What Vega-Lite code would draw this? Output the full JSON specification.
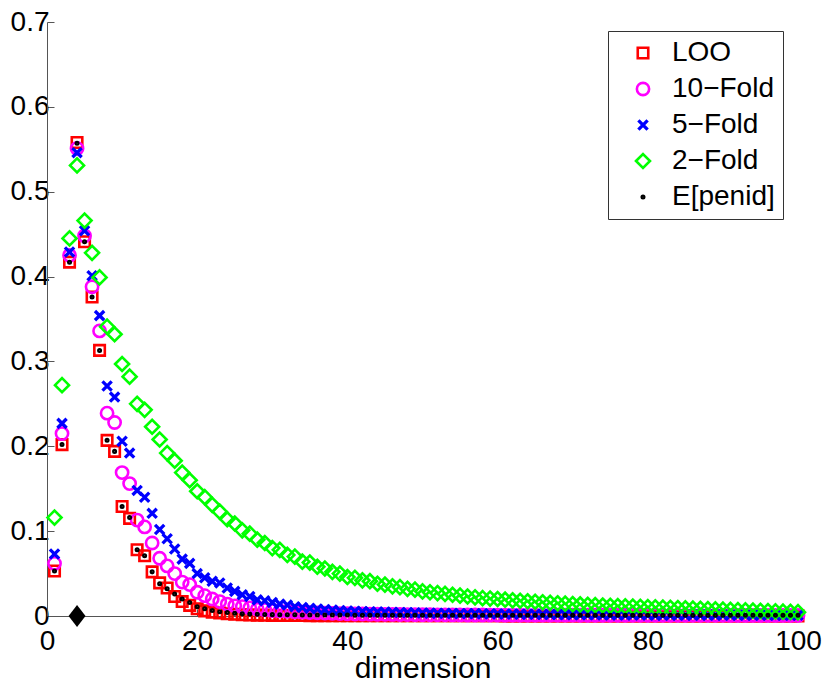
{
  "$schema": "https://vega.github.io/schema/vega-lite/v6.json",
  "width": 751,
  "height": 594,
  "autosize": "none",
  "padding": {"left": 47, "top": 22, "right": 32, "bottom": 75},
  "background": "white",
  "config": {
    "view": {"stroke": null},
    "font": "Liberation Sans",
    "axis": {
      "grid": false,
      "domainColor": "#555555",
      "tickColor": "#555555",
      "tickSize": -7,
      "labelFontSize": 28,
      "labelColor": "black",
      "labelFlush": false,
      "titleFontSize": 30,
      "titleFontWeight": "normal",
      "titleColor": "black"
    },
    "legend": {
      "orient": "none",
      "legendX": 561,
      "legendY": 9,
      "strokeColor": "#333333",
      "fillColor": "white",
      "padding": 8,
      "labelFontSize": 28,
      "labelColor": "black",
      "rowPadding": 8,
      "symbolOffset": 13,
      "labelOffset": 15
    }
  },
  "datasets": {
    "pts": [
      {"s":"LOO","d":1,"v":0.053},{"s":"LOO","d":2,"v":0.202},{"s":"LOO","d":3,"v":0.417},{"s":"LOO","d":4,"v":0.558},{"s":"LOO","d":5,"v":0.441},
      {"s":"LOO","d":6,"v":0.376},{"s":"LOO","d":7,"v":0.313},{"s":"LOO","d":8,"v":0.207},{"s":"LOO","d":9,"v":0.194},{"s":"LOO","d":10,"v":0.129},
      {"s":"LOO","d":11,"v":0.115},{"s":"LOO","d":12,"v":0.078},{"s":"LOO","d":13,"v":0.071},{"s":"LOO","d":14,"v":0.052},{"s":"LOO","d":15,"v":0.039},
      {"s":"LOO","d":16,"v":0.033},{"s":"LOO","d":17,"v":0.023},{"s":"LOO","d":18,"v":0.017},{"s":"LOO","d":19,"v":0.0125},{"s":"LOO","d":20,"v":0.0085},
      {"s":"LOO","d":21,"v":0.006},{"s":"LOO","d":22,"v":0.0045},{"s":"LOO","d":23,"v":0.0035},{"s":"LOO","d":24,"v":0.0026},{"s":"LOO","d":25,"v":0.002},
      {"s":"LOO","d":26,"v":0.0015},{"s":"LOO","d":27,"v":0.0012},{"s":"LOO","d":28,"v":0.001},{"s":"LOO","d":29,"v":0.0008},{"s":"LOO","d":30,"v":0.0007},
      {"s":"LOO","d":31,"v":0.0006},{"s":"LOO","d":32,"v":0.0006},{"s":"LOO","d":33,"v":0.0005},{"s":"LOO","d":34,"v":0.0005},{"s":"LOO","d":35,"v":0.0004},
      {"s":"LOO","d":36,"v":0.0004},{"s":"LOO","d":37,"v":0.0004},{"s":"LOO","d":38,"v":0.0003},{"s":"LOO","d":39,"v":0.0003},{"s":"LOO","d":40,"v":0.0003},
      {"s":"LOO","d":41,"v":0.0002},{"s":"LOO","d":42,"v":0.0002},{"s":"LOO","d":43,"v":0.0002},{"s":"LOO","d":44,"v":0.0002},{"s":"LOO","d":45,"v":0.0002},
      {"s":"LOO","d":46,"v":0.0002},{"s":"LOO","d":47,"v":0.0002},{"s":"LOO","d":48,"v":0.0002},{"s":"LOO","d":49,"v":0.0002},{"s":"LOO","d":50,"v":0.0002},
      {"s":"LOO","d":51,"v":0.0002},{"s":"LOO","d":52,"v":0.0002},{"s":"LOO","d":53,"v":0.0002},{"s":"LOO","d":54,"v":0.0002},{"s":"LOO","d":55,"v":0.0002},
      {"s":"LOO","d":56,"v":0.0002},{"s":"LOO","d":57,"v":0.0002},{"s":"LOO","d":58,"v":0.0002},{"s":"LOO","d":59,"v":0.0002},{"s":"LOO","d":60,"v":0.0002},
      {"s":"LOO","d":61,"v":0.0001},{"s":"LOO","d":62,"v":0.0001},{"s":"LOO","d":63,"v":0.0001},{"s":"LOO","d":64,"v":0.0001},{"s":"LOO","d":65,"v":0.0001},
      {"s":"LOO","d":66,"v":0.0001},{"s":"LOO","d":67,"v":0.0001},{"s":"LOO","d":68,"v":0.0001},{"s":"LOO","d":69,"v":0.0001},{"s":"LOO","d":70,"v":0.0001},
      {"s":"LOO","d":71,"v":0.0001},{"s":"LOO","d":72,"v":0.0001},{"s":"LOO","d":73,"v":0.0001},{"s":"LOO","d":74,"v":0.0001},{"s":"LOO","d":75,"v":0.0001},
      {"s":"LOO","d":76,"v":0.0001},{"s":"LOO","d":77,"v":0.0001},{"s":"LOO","d":78,"v":0.0001},{"s":"LOO","d":79,"v":0.0001},{"s":"LOO","d":80,"v":0.0001},
      {"s":"LOO","d":81,"v":0.0001},{"s":"LOO","d":82,"v":0.0001},{"s":"LOO","d":83,"v":0.0001},{"s":"LOO","d":84,"v":0.0001},{"s":"LOO","d":85,"v":0.0001},
      {"s":"LOO","d":86,"v":0.0001},{"s":"LOO","d":87,"v":0.0001},{"s":"LOO","d":88,"v":0.0001},{"s":"LOO","d":89,"v":0.0001},{"s":"LOO","d":90,"v":0.0001},
      {"s":"LOO","d":91,"v":0.0001},{"s":"LOO","d":92,"v":0.0001},{"s":"LOO","d":93,"v":0.0001},{"s":"LOO","d":94,"v":0.0001},{"s":"LOO","d":95,"v":0.0001},
      {"s":"LOO","d":96,"v":0.0001},{"s":"LOO","d":97,"v":0.0001},{"s":"LOO","d":98,"v":0.0001},{"s":"LOO","d":99,"v":0.0001},{"s":"LOO","d":100,"v":0.0001},

      {"s":"10−Fold","d":1,"v":0.062},{"s":"10−Fold","d":2,"v":0.215},{"s":"10−Fold","d":3,"v":0.425},{"s":"10−Fold","d":4,"v":0.551},{"s":"10−Fold","d":5,"v":0.448},
      {"s":"10−Fold","d":6,"v":0.388},{"s":"10−Fold","d":7,"v":0.336},{"s":"10−Fold","d":8,"v":0.239},{"s":"10−Fold","d":9,"v":0.228},{"s":"10−Fold","d":10,"v":0.169},
      {"s":"10−Fold","d":11,"v":0.156},{"s":"10−Fold","d":12,"v":0.113},{"s":"10−Fold","d":13,"v":0.105},{"s":"10−Fold","d":14,"v":0.086},{"s":"10−Fold","d":15,"v":0.068},
      {"s":"10−Fold","d":16,"v":0.059},{"s":"10−Fold","d":17,"v":0.05},{"s":"10−Fold","d":18,"v":0.04},{"s":"10−Fold","d":19,"v":0.037},{"s":"10−Fold","d":20,"v":0.028},
      {"s":"10−Fold","d":21,"v":0.024},{"s":"10−Fold","d":22,"v":0.02},{"s":"10−Fold","d":23,"v":0.017},{"s":"10−Fold","d":24,"v":0.014},{"s":"10−Fold","d":25,"v":0.012},
      {"s":"10−Fold","d":26,"v":0.011},{"s":"10−Fold","d":27,"v":0.0095},{"s":"10−Fold","d":28,"v":0.008},{"s":"10−Fold","d":29,"v":0.0075},{"s":"10−Fold","d":30,"v":0.0065},
      {"s":"10−Fold","d":31,"v":0.006},{"s":"10−Fold","d":32,"v":0.0055},{"s":"10−Fold","d":33,"v":0.005},{"s":"10−Fold","d":34,"v":0.0045},{"s":"10−Fold","d":35,"v":0.004},
      {"s":"10−Fold","d":36,"v":0.0037},{"s":"10−Fold","d":37,"v":0.0034},{"s":"10−Fold","d":38,"v":0.0031},{"s":"10−Fold","d":39,"v":0.0028},{"s":"10−Fold","d":40,"v":0.0026},
      {"s":"10−Fold","d":41,"v":0.0024},{"s":"10−Fold","d":42,"v":0.0023},{"s":"10−Fold","d":43,"v":0.0022},{"s":"10−Fold","d":44,"v":0.0021},{"s":"10−Fold","d":45,"v":0.002},
      {"s":"10−Fold","d":46,"v":0.0019},{"s":"10−Fold","d":47,"v":0.0018},{"s":"10−Fold","d":48,"v":0.0017},{"s":"10−Fold","d":49,"v":0.0016},{"s":"10−Fold","d":50,"v":0.0015},
      {"s":"10−Fold","d":51,"v":0.0015},{"s":"10−Fold","d":52,"v":0.0014},{"s":"10−Fold","d":53,"v":0.0014},{"s":"10−Fold","d":54,"v":0.0013},{"s":"10−Fold","d":55,"v":0.0013},
      {"s":"10−Fold","d":56,"v":0.0012},{"s":"10−Fold","d":57,"v":0.0012},{"s":"10−Fold","d":58,"v":0.0012},{"s":"10−Fold","d":59,"v":0.0011},{"s":"10−Fold","d":60,"v":0.0011},
      {"s":"10−Fold","d":61,"v":0.001},{"s":"10−Fold","d":62,"v":0.001},{"s":"10−Fold","d":63,"v":0.001},{"s":"10−Fold","d":64,"v":0.001},{"s":"10−Fold","d":65,"v":0.001},
      {"s":"10−Fold","d":66,"v":0.001},{"s":"10−Fold","d":67,"v":0.001},{"s":"10−Fold","d":68,"v":0.001},{"s":"10−Fold","d":69,"v":0.001},{"s":"10−Fold","d":70,"v":0.001},
      {"s":"10−Fold","d":71,"v":0.0009},{"s":"10−Fold","d":72,"v":0.0009},{"s":"10−Fold","d":73,"v":0.0009},{"s":"10−Fold","d":74,"v":0.0009},{"s":"10−Fold","d":75,"v":0.0009},
      {"s":"10−Fold","d":76,"v":0.0009},{"s":"10−Fold","d":77,"v":0.0009},{"s":"10−Fold","d":78,"v":0.0009},{"s":"10−Fold","d":79,"v":0.0009},{"s":"10−Fold","d":80,"v":0.0009},
      {"s":"10−Fold","d":81,"v":0.0008},{"s":"10−Fold","d":82,"v":0.0008},{"s":"10−Fold","d":83,"v":0.0008},{"s":"10−Fold","d":84,"v":0.0008},{"s":"10−Fold","d":85,"v":0.0008},
      {"s":"10−Fold","d":86,"v":0.0008},{"s":"10−Fold","d":87,"v":0.0008},{"s":"10−Fold","d":88,"v":0.0008},{"s":"10−Fold","d":89,"v":0.0008},{"s":"10−Fold","d":90,"v":0.0008},
      {"s":"10−Fold","d":91,"v":0.0007},{"s":"10−Fold","d":92,"v":0.0007},{"s":"10−Fold","d":93,"v":0.0007},{"s":"10−Fold","d":94,"v":0.0007},{"s":"10−Fold","d":95,"v":0.0007},
      {"s":"10−Fold","d":96,"v":0.0007},{"s":"10−Fold","d":97,"v":0.0007},{"s":"10−Fold","d":98,"v":0.0007},{"s":"10−Fold","d":99,"v":0.0007},{"s":"10−Fold","d":100,"v":0.0007},

      {"s":"5−Fold","d":1,"v":0.073},{"s":"5−Fold","d":2,"v":0.227},{"s":"5−Fold","d":3,"v":0.429},{"s":"5−Fold","d":4,"v":0.546},{"s":"5−Fold","d":5,"v":0.454},
      {"s":"5−Fold","d":6,"v":0.401},{"s":"5−Fold","d":7,"v":0.354},{"s":"5−Fold","d":8,"v":0.271},{"s":"5−Fold","d":9,"v":0.258},{"s":"5−Fold","d":10,"v":0.206},
      {"s":"5−Fold","d":11,"v":0.192},{"s":"5−Fold","d":12,"v":0.148},{"s":"5−Fold","d":13,"v":0.14},{"s":"5−Fold","d":14,"v":0.121},{"s":"5−Fold","d":15,"v":0.102},
      {"s":"5−Fold","d":16,"v":0.091},{"s":"5−Fold","d":17,"v":0.079},{"s":"5−Fold","d":18,"v":0.067},{"s":"5−Fold","d":19,"v":0.062},{"s":"5−Fold","d":20,"v":0.05},
      {"s":"5−Fold","d":21,"v":0.045},{"s":"5−Fold","d":22,"v":0.041},{"s":"5−Fold","d":23,"v":0.039},{"s":"5−Fold","d":24,"v":0.033},{"s":"5−Fold","d":25,"v":0.029},
      {"s":"5−Fold","d":26,"v":0.025},{"s":"5−Fold","d":27,"v":0.023},{"s":"5−Fold","d":28,"v":0.019},{"s":"5−Fold","d":29,"v":0.018},{"s":"5−Fold","d":30,"v":0.016},
      {"s":"5−Fold","d":31,"v":0.014},{"s":"5−Fold","d":32,"v":0.013},{"s":"5−Fold","d":33,"v":0.011},{"s":"5−Fold","d":34,"v":0.01},{"s":"5−Fold","d":35,"v":0.009},
      {"s":"5−Fold","d":36,"v":0.0082},{"s":"5−Fold","d":37,"v":0.0075},{"s":"5−Fold","d":38,"v":0.007},{"s":"5−Fold","d":39,"v":0.0064},{"s":"5−Fold","d":40,"v":0.006},
      {"s":"5−Fold","d":41,"v":0.0057},{"s":"5−Fold","d":42,"v":0.0054},{"s":"5−Fold","d":43,"v":0.0051},{"s":"5−Fold","d":44,"v":0.0048},{"s":"5−Fold","d":45,"v":0.0046},
      {"s":"5−Fold","d":46,"v":0.0044},{"s":"5−Fold","d":47,"v":0.0042},{"s":"5−Fold","d":48,"v":0.004},{"s":"5−Fold","d":49,"v":0.0038},{"s":"5−Fold","d":50,"v":0.0036},
      {"s":"5−Fold","d":51,"v":0.0034},{"s":"5−Fold","d":52,"v":0.0033},{"s":"5−Fold","d":53,"v":0.0032},{"s":"5−Fold","d":54,"v":0.0031},{"s":"5−Fold","d":55,"v":0.003},
      {"s":"5−Fold","d":56,"v":0.0029},{"s":"5−Fold","d":57,"v":0.0028},{"s":"5−Fold","d":58,"v":0.0027},{"s":"5−Fold","d":59,"v":0.0026},{"s":"5−Fold","d":60,"v":0.0025},
      {"s":"5−Fold","d":61,"v":0.0024},{"s":"5−Fold","d":62,"v":0.0023},{"s":"5−Fold","d":63,"v":0.0022},{"s":"5−Fold","d":64,"v":0.0021},{"s":"5−Fold","d":65,"v":0.002},
      {"s":"5−Fold","d":66,"v":0.0019},{"s":"5−Fold","d":67,"v":0.0018},{"s":"5−Fold","d":68,"v":0.0017},{"s":"5−Fold","d":69,"v":0.0016},{"s":"5−Fold","d":70,"v":0.0015},
      {"s":"5−Fold","d":71,"v":0.0015},{"s":"5−Fold","d":72,"v":0.0014},{"s":"5−Fold","d":73,"v":0.0014},{"s":"5−Fold","d":74,"v":0.0013},{"s":"5−Fold","d":75,"v":0.0013},
      {"s":"5−Fold","d":76,"v":0.0012},{"s":"5−Fold","d":77,"v":0.0012},{"s":"5−Fold","d":78,"v":0.0012},{"s":"5−Fold","d":79,"v":0.0011},{"s":"5−Fold","d":80,"v":0.0011},
      {"s":"5−Fold","d":81,"v":0.001},{"s":"5−Fold","d":82,"v":0.001},{"s":"5−Fold","d":83,"v":0.001},{"s":"5−Fold","d":84,"v":0.001},{"s":"5−Fold","d":85,"v":0.001},
      {"s":"5−Fold","d":86,"v":0.001},{"s":"5−Fold","d":87,"v":0.001},{"s":"5−Fold","d":88,"v":0.001},{"s":"5−Fold","d":89,"v":0.001},{"s":"5−Fold","d":90,"v":0.001},
      {"s":"5−Fold","d":91,"v":0.0009},{"s":"5−Fold","d":92,"v":0.0009},{"s":"5−Fold","d":93,"v":0.0009},{"s":"5−Fold","d":94,"v":0.0009},{"s":"5−Fold","d":95,"v":0.0009},
      {"s":"5−Fold","d":96,"v":0.0009},{"s":"5−Fold","d":97,"v":0.0009},{"s":"5−Fold","d":98,"v":0.0009},{"s":"5−Fold","d":99,"v":0.0009},{"s":"5−Fold","d":100,"v":0.0009},

      {"s":"2−Fold","d":1,"v":0.116},{"s":"2−Fold","d":2,"v":0.272},{"s":"2−Fold","d":3,"v":0.445},{"s":"2−Fold","d":4,"v":0.531},{"s":"2−Fold","d":5,"v":0.466},
      {"s":"2−Fold","d":6,"v":0.428},{"s":"2−Fold","d":7,"v":0.399},{"s":"2−Fold","d":8,"v":0.341},{"s":"2−Fold","d":9,"v":0.332},{"s":"2−Fold","d":10,"v":0.297},
      {"s":"2−Fold","d":11,"v":0.282},{"s":"2−Fold","d":12,"v":0.25},{"s":"2−Fold","d":13,"v":0.243},{"s":"2−Fold","d":14,"v":0.223},{"s":"2−Fold","d":15,"v":0.208},
      {"s":"2−Fold","d":16,"v":0.192},{"s":"2−Fold","d":17,"v":0.183},{"s":"2−Fold","d":18,"v":0.169},{"s":"2−Fold","d":19,"v":0.16},{"s":"2−Fold","d":20,"v":0.147},
      {"s":"2−Fold","d":21,"v":0.14},{"s":"2−Fold","d":22,"v":0.131},{"s":"2−Fold","d":23,"v":0.123},{"s":"2−Fold","d":24,"v":0.114},{"s":"2−Fold","d":25,"v":0.109},
      {"s":"2−Fold","d":26,"v":0.101},{"s":"2−Fold","d":27,"v":0.097},{"s":"2−Fold","d":28,"v":0.09},{"s":"2−Fold","d":29,"v":0.086},{"s":"2−Fold","d":30,"v":0.08},
      {"s":"2−Fold","d":31,"v":0.078},{"s":"2−Fold","d":32,"v":0.072},{"s":"2−Fold","d":33,"v":0.07},{"s":"2−Fold","d":34,"v":0.064},{"s":"2−Fold","d":35,"v":0.063},
      {"s":"2−Fold","d":36,"v":0.058},{"s":"2−Fold","d":37,"v":0.056},{"s":"2−Fold","d":38,"v":0.052},{"s":"2−Fold","d":39,"v":0.05},{"s":"2−Fold","d":40,"v":0.046},
      {"s":"2−Fold","d":41,"v":0.045},{"s":"2−Fold","d":42,"v":0.042},{"s":"2−Fold","d":43,"v":0.041},{"s":"2−Fold","d":44,"v":0.038},{"s":"2−Fold","d":45,"v":0.037},
      {"s":"2−Fold","d":46,"v":0.035},{"s":"2−Fold","d":47,"v":0.034},{"s":"2−Fold","d":48,"v":0.032},{"s":"2−Fold","d":49,"v":0.031},{"s":"2−Fold","d":50,"v":0.029},
      {"s":"2−Fold","d":51,"v":0.028},{"s":"2−Fold","d":52,"v":0.027},{"s":"2−Fold","d":53,"v":0.026},{"s":"2−Fold","d":54,"v":0.025},{"s":"2−Fold","d":55,"v":0.024},
      {"s":"2−Fold","d":56,"v":0.023},{"s":"2−Fold","d":57,"v":0.022},{"s":"2−Fold","d":58,"v":0.021},{"s":"2−Fold","d":59,"v":0.0205},{"s":"2−Fold","d":60,"v":0.02},
      {"s":"2−Fold","d":61,"v":0.0192},{"s":"2−Fold","d":62,"v":0.0185},{"s":"2−Fold","d":63,"v":0.018},{"s":"2−Fold","d":64,"v":0.0174},{"s":"2−Fold","d":65,"v":0.0168},
      {"s":"2−Fold","d":66,"v":0.0162},{"s":"2−Fold","d":67,"v":0.0156},{"s":"2−Fold","d":68,"v":0.015},{"s":"2−Fold","d":69,"v":0.0145},{"s":"2−Fold","d":70,"v":0.014},
      {"s":"2−Fold","d":71,"v":0.0136},{"s":"2−Fold","d":72,"v":0.0132},{"s":"2−Fold","d":73,"v":0.0128},{"s":"2−Fold","d":74,"v":0.0124},{"s":"2−Fold","d":75,"v":0.012},
      {"s":"2−Fold","d":76,"v":0.0117},{"s":"2−Fold","d":77,"v":0.0114},{"s":"2−Fold","d":78,"v":0.0111},{"s":"2−Fold","d":79,"v":0.0108},{"s":"2−Fold","d":80,"v":0.0105},
      {"s":"2−Fold","d":81,"v":0.0102},{"s":"2−Fold","d":82,"v":0.0099},{"s":"2−Fold","d":83,"v":0.0096},{"s":"2−Fold","d":84,"v":0.0093},{"s":"2−Fold","d":85,"v":0.009},
      {"s":"2−Fold","d":86,"v":0.0087},{"s":"2−Fold","d":87,"v":0.0084},{"s":"2−Fold","d":88,"v":0.0081},{"s":"2−Fold","d":89,"v":0.0078},{"s":"2−Fold","d":90,"v":0.0075},
      {"s":"2−Fold","d":91,"v":0.0072},{"s":"2−Fold","d":92,"v":0.0069},{"s":"2−Fold","d":93,"v":0.0066},{"s":"2−Fold","d":94,"v":0.0063},{"s":"2−Fold","d":95,"v":0.006},
      {"s":"2−Fold","d":96,"v":0.0057},{"s":"2−Fold","d":97,"v":0.0054},{"s":"2−Fold","d":98,"v":0.0051},{"s":"2−Fold","d":99,"v":0.0048},{"s":"2−Fold","d":100,"v":0.0045},

      {"s":"E[penid]","d":1,"v":0.053},{"s":"E[penid]","d":2,"v":0.202},{"s":"E[penid]","d":3,"v":0.417},{"s":"E[penid]","d":4,"v":0.557},{"s":"E[penid]","d":5,"v":0.441},
      {"s":"E[penid]","d":6,"v":0.376},{"s":"E[penid]","d":7,"v":0.313},{"s":"E[penid]","d":8,"v":0.207},{"s":"E[penid]","d":9,"v":0.194},{"s":"E[penid]","d":10,"v":0.129},
      {"s":"E[penid]","d":11,"v":0.116},{"s":"E[penid]","d":12,"v":0.078},{"s":"E[penid]","d":13,"v":0.071},{"s":"E[penid]","d":14,"v":0.052},{"s":"E[penid]","d":15,"v":0.038},
      {"s":"E[penid]","d":16,"v":0.032},{"s":"E[penid]","d":17,"v":0.026},{"s":"E[penid]","d":18,"v":0.02},{"s":"E[penid]","d":19,"v":0.016},{"s":"E[penid]","d":20,"v":0.011},
      {"s":"E[penid]","d":21,"v":0.0085},{"s":"E[penid]","d":22,"v":0.0065},{"s":"E[penid]","d":23,"v":0.005},{"s":"E[penid]","d":24,"v":0.004},{"s":"E[penid]","d":25,"v":0.0032},
      {"s":"E[penid]","d":26,"v":0.0027},{"s":"E[penid]","d":27,"v":0.0023},{"s":"E[penid]","d":28,"v":0.002},{"s":"E[penid]","d":29,"v":0.0018},{"s":"E[penid]","d":30,"v":0.0016},
      {"s":"E[penid]","d":31,"v":0.0015},{"s":"E[penid]","d":32,"v":0.0014},{"s":"E[penid]","d":33,"v":0.0014},{"s":"E[penid]","d":34,"v":0.0013},{"s":"E[penid]","d":35,"v":0.0013},
      {"s":"E[penid]","d":36,"v":0.0012},{"s":"E[penid]","d":37,"v":0.0012},{"s":"E[penid]","d":38,"v":0.0012},{"s":"E[penid]","d":39,"v":0.0011},{"s":"E[penid]","d":40,"v":0.0011},
      {"s":"E[penid]","d":41,"v":0.001},{"s":"E[penid]","d":42,"v":0.001},{"s":"E[penid]","d":43,"v":0.001},{"s":"E[penid]","d":44,"v":0.001},{"s":"E[penid]","d":45,"v":0.001},
      {"s":"E[penid]","d":46,"v":0.001},{"s":"E[penid]","d":47,"v":0.001},{"s":"E[penid]","d":48,"v":0.001},{"s":"E[penid]","d":49,"v":0.001},{"s":"E[penid]","d":50,"v":0.001},
      {"s":"E[penid]","d":51,"v":0.001},{"s":"E[penid]","d":52,"v":0.001},{"s":"E[penid]","d":53,"v":0.001},{"s":"E[penid]","d":54,"v":0.001},{"s":"E[penid]","d":55,"v":0.001},
      {"s":"E[penid]","d":56,"v":0.001},{"s":"E[penid]","d":57,"v":0.001},{"s":"E[penid]","d":58,"v":0.001},{"s":"E[penid]","d":59,"v":0.001},{"s":"E[penid]","d":60,"v":0.001},
      {"s":"E[penid]","d":61,"v":0.001},{"s":"E[penid]","d":62,"v":0.001},{"s":"E[penid]","d":63,"v":0.001},{"s":"E[penid]","d":64,"v":0.001},{"s":"E[penid]","d":65,"v":0.001},
      {"s":"E[penid]","d":66,"v":0.001},{"s":"E[penid]","d":67,"v":0.001},{"s":"E[penid]","d":68,"v":0.001},{"s":"E[penid]","d":69,"v":0.001},{"s":"E[penid]","d":70,"v":0.001},
      {"s":"E[penid]","d":71,"v":0.0009},{"s":"E[penid]","d":72,"v":0.0009},{"s":"E[penid]","d":73,"v":0.0009},{"s":"E[penid]","d":74,"v":0.0009},{"s":"E[penid]","d":75,"v":0.0009},
      {"s":"E[penid]","d":76,"v":0.0009},{"s":"E[penid]","d":77,"v":0.0009},{"s":"E[penid]","d":78,"v":0.0009},{"s":"E[penid]","d":79,"v":0.0009},{"s":"E[penid]","d":80,"v":0.0009},
      {"s":"E[penid]","d":81,"v":0.0009},{"s":"E[penid]","d":82,"v":0.0009},{"s":"E[penid]","d":83,"v":0.0009},{"s":"E[penid]","d":84,"v":0.0009},{"s":"E[penid]","d":85,"v":0.0009},
      {"s":"E[penid]","d":86,"v":0.0009},{"s":"E[penid]","d":87,"v":0.0009},{"s":"E[penid]","d":88,"v":0.0009},{"s":"E[penid]","d":89,"v":0.0009},{"s":"E[penid]","d":90,"v":0.0009},
      {"s":"E[penid]","d":91,"v":0.0009},{"s":"E[penid]","d":92,"v":0.0009},{"s":"E[penid]","d":93,"v":0.0009},{"s":"E[penid]","d":94,"v":0.0009},{"s":"E[penid]","d":95,"v":0.0009},
      {"s":"E[penid]","d":96,"v":0.0009},{"s":"E[penid]","d":97,"v":0.0009},{"s":"E[penid]","d":98,"v":0.0009},{"s":"E[penid]","d":99,"v":0.0009},{"s":"E[penid]","d":100,"v":0.0009}
    ],
    "truedim": [
      {"d": 4, "v": 0}
    ]
  },
  "layer": [
    {
      "data": {"name": "pts"},
      "mark": {"type": "point", "filled": false, "opacity": 1},
      "encoding": {
        "x": {
          "field": "d",
          "type": "quantitative",
          "title": "dimension",
          "scale": {"domain": [0, 100], "nice": false, "padding": 0},
          "axis": {"values": [0, 20, 40, 60, 80, 100], "labelPadding": 18, "titleY": 61, "titleBaseline": "alphabetic"}
        },
        "y": {
          "field": "v",
          "type": "quantitative",
          "title": null,
          "scale": {"domain": [0, 0.7], "nice": false, "padding": 0},
          "axis": {"values": [0, 0.1, 0.2, 0.3, 0.4, 0.5, 0.6, 0.7], "format": ".1~f", "labelPadding": 5}
        },
        "color": {
          "field": "s",
          "type": "nominal",
          "title": null,
          "scale": {
            "domain": ["LOO", "10−Fold", "5−Fold", "2−Fold", "E[penid]"],
            "range": ["#ff0000", "#ff00ff", "#0000ff", "#00ff00", "#000000"]
          }
        },
        "shape": {
          "field": "s",
          "type": "nominal",
          "title": null,
          "scale": {
            "domain": ["LOO", "10−Fold", "5−Fold", "2−Fold", "E[penid]"],
            "range": ["square", "circle", "M-1,-1L1,1M-1,1L1,-1", "diamond", "circle"]
          }
        },
        "size": {
          "field": "s",
          "type": "nominal",
          "title": null,
          "scale": {
            "type": "ordinal",
            "domain": ["LOO", "10−Fold", "5−Fold", "2−Fold", "E[penid]"],
            "range": [110, 150, 85, 196, 5]
          }
        },
        "strokeWidth": {
          "field": "s",
          "type": "nominal",
          "title": null,
          "scale": {
            "type": "ordinal",
            "domain": ["LOO", "10−Fold", "5−Fold", "2−Fold", "E[penid]"],
            "range": [2.6, 2.6, 3.3, 2.6, 2.8]
          }
        }
      }
    },
    {
      "data": {"name": "truedim"},
      "mark": {"type": "point", "filled": true, "shape": "M0,-1L0.77,0L0,1L-0.77,0Z", "size": 484, "color": "black", "opacity": 1},
      "encoding": {
        "x": {"field": "d", "type": "quantitative"},
        "y": {"field": "v", "type": "quantitative"}
      }
    }
  ]
}
